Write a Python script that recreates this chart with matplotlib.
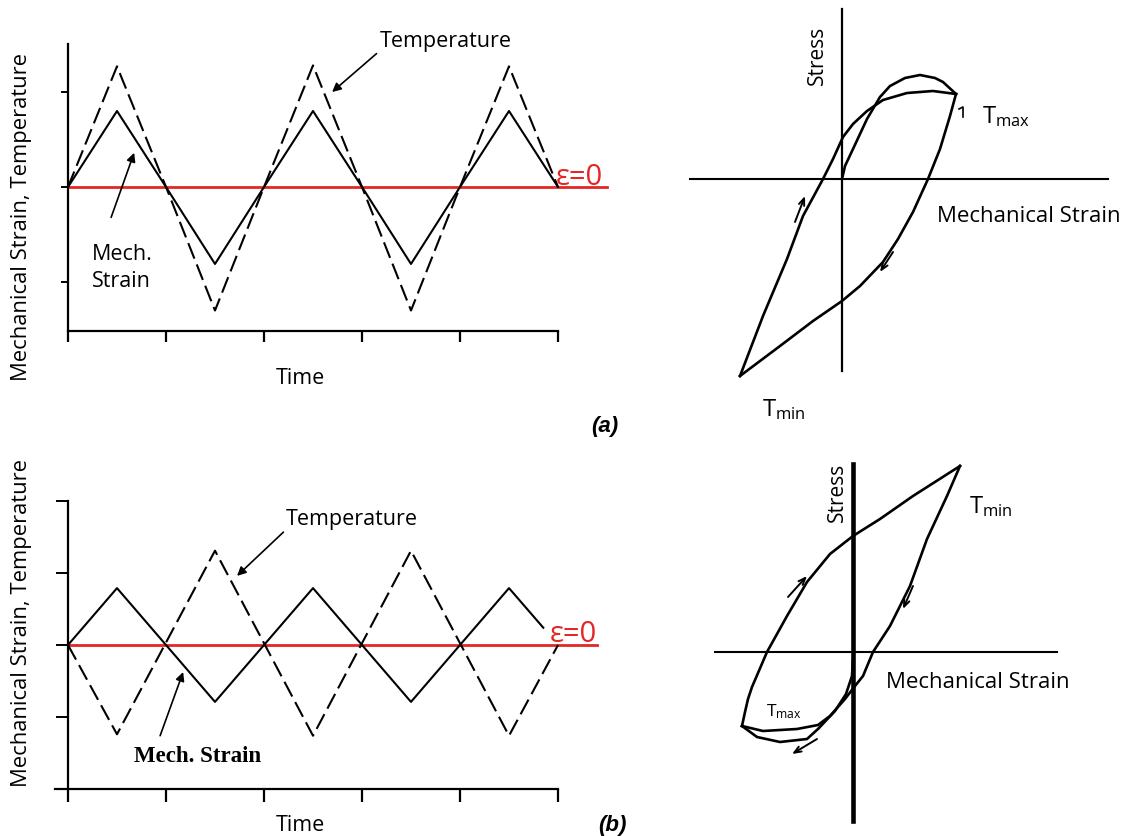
import matplotlib.pyplot as plt

# --- Configurações ---
LARGURA, ALTURA = 1127, 837
VERMELHO = '#e32626'
plt.rcParams['font.family'] = ['Open Sans', 'DejaVu Sans']
plt.rcParams['mathtext.fontset'] = 'custom'
plt.rcParams['mathtext.rm'] = 'Open Sans'

# --- Dados (a): deformação e temperatura em fase ---
tempo_a = [0, 1, 2, 3, 4, 5, 6, 7, 8, 9, 10]
deform_a = [0, 0.8, 0, -0.81, 0, 0.8, 0, -0.81, 0, 0.8, 0]
temp_a = [0, 1.27, 0, -1.3, 0, 1.28, 0, -1.3, 0, 1.27, 0]

# --- Dados (b): fora de fase ---
tempo_b_def = [0, 1, 3, 5, 7, 9, 9.7]
deform_b = [0, 0.79, -0.79, 0.79, -0.79, 0.79, 0.24]
tempo_b_temp = [0, 1, 3, 5, 7, 9, 10]
temp_b = [0, -1.24, 1.31, -1.26, 1.31, -1.26, 0]

# --- Laço tensão x deformação (a) ---
laco_a_ini_x = [0.0, 0.03, 0.11, 0.25, 0.38, 0.48, 0.63, 0.78, 0.93, 1.01, 1.14]
laco_a_ini_y = [0.0, 0.13, 0.30, 0.60, 0.82, 0.93, 1.01, 1.04, 1.01, 0.97, 0.85]
laco_a_sup_x = [-1.02, -0.79, -0.55, -0.39, -0.19, -0.09, 0.01, 0.11, 0.25, 0.41, 0.65, 0.91, 1.14]
laco_a_sup_y = [-1.97, -1.37, -0.80, -0.37, 0.0, 0.20, 0.42, 0.55, 0.68, 0.79, 0.86, 0.88, 0.85]
laco_a_inf_x = [1.14, 1.08, 0.98, 0.86, 0.71, 0.56, 0.41, 0.18, 0.0, -0.29, -0.62, -0.82, -1.02]
laco_a_inf_y = [0.85, 0.63, 0.30, 0.0, -0.33, -0.60, -0.83, -1.07, -1.22, -1.42, -1.67, -1.82, -1.97]

# --- Laço tensão x deformação (b) ---
laco_b_sup_x = [1.07, 0.60, 0.27, 0.0, -0.23, -0.46, -0.66, -0.86, -1.01, -1.05, -1.08, -1.11]
laco_b_sup_y = [1.86, 1.56, 1.33, 1.16, 0.98, 0.70, 0.36, 0.0, -0.35, -0.47, -0.60, -0.74]
laco_b_dir_x = [1.07, 0.94, 0.74, 0.57, 0.37, 0.20, 0.10, 0.02, -0.08, -0.23, -0.35, -0.56, -0.90, -1.11]
laco_b_dir_y = [1.86, 1.56, 1.13, 0.66, 0.26, 0.0, -0.24, -0.34, -0.47, -0.64, -0.73, -0.77, -0.79, -0.74]
laco_b_ini_x = [0.0, -0.01, -0.07, -0.18, -0.35, -0.46, -0.73, -0.96, -1.11]
laco_b_ini_y = [-0.07, -0.24, -0.42, -0.59, -0.77, -0.87, -0.90, -0.85, -0.74]


def caixa(x0, y0, x1, y1):
    # converte caixa em pixels (origem no topo) para fração da figura
    return [x0 / LARGURA, 1 - y1 / ALTURA, (x1 - x0) / LARGURA, (y1 - y0) / ALTURA]


def px(x, y):
    return x / LARGURA, 1 - y / ALTURA


def eixo_tempo(ax, x0px, topo, base, ticks_y, base_esq, tam_tick):
    # eixos com escala em pixels: 49 px por unidade de tempo
    ax.set_xlim((50 - x0px) / 49, (620 - x0px) / 49)
    ax.patch.set_alpha(0)
    for lado in ['top', 'right']:
        ax.spines[lado].set_visible(False)
    ax.spines['left'].set_position(('data', 0))
    ax.spines['left'].set_bounds(base, topo)
    ax.spines['bottom'].set_position(('data', base))
    ax.spines['bottom'].set_bounds(base_esq, 10)
    for lado in ['left', 'bottom']:
        ax.spines[lado].set_linewidth(1.6)
    ax.set_xticks([0, 2, 4, 6, 8, 10])
    ax.set_yticks(ticks_y)
    ax.set_xticklabels([])
    ax.set_yticklabels([])
    ax.tick_params(axis='x', direction='out', length=tam_tick[0], width=1.6)
    ax.tick_params(axis='y', direction='out', length=tam_tick[1], width=1.4)


seta = dict(arrowstyle='-|>', lw=1.2, color='black', mutation_scale=13, shrinkA=0, shrinkB=0)
seta_pequena = dict(arrowstyle='->,head_length=0.5,head_width=0.2', lw=1.4, color='black',
                    shrinkA=0, shrinkB=0)

fig = plt.figure(figsize=(LARGURA / 100, ALTURA / 100), dpi=100)

# ---------------- (a) esquerda ----------------
ax1 = fig.add_axes(caixa(50, 40, 620, 345))
eixo_tempo(ax1, 68, 1.505, -1.516, [-1, 0, 1], 0, (8, 5))
ax1.set_ylim((188 - 345) / 95, (188 - 40) / 95)
ax1.plot([0, 11.0], [0, 0], color=VERMELHO, lw=2.0, zorder=1)
ax1.plot(tempo_a, deform_a, color='black', lw=1.5)
ax1.plot(tempo_a, temp_a, color='black', lw=1.5, dashes=(8, 3))
ax1.annotate('Temperature', xy=(5.39, 1.0), xytext=(7.7, 1.54), ha='center', va='center',
             fontsize=15.5, annotation_clip=False,
             arrowprops=dict(seta, relpos=(0.0, 0.0)))
ax1.annotate('', xy=(1.35, 0.36), xytext=(0.88, -0.32), arrowprops=seta)
ax1.text(0.49, -0.84, 'Mech.\nStrain', ha='left', va='center', fontsize=15.5, linespacing=1.35)

fig.text(*px(22, 217), 'Mechanical Strain, Temperature', rotation=90, ha='center', va='center',
         fontsize=15.8)
fig.text(*px(300, 378), 'Time', ha='center', va='center', fontsize=15.5)
fig.text(*px(556, 178), 'ε=0', ha='left', va='center', fontsize=21, color=VERMELHO)
fig.text(*px(605, 427), '(a)', ha='center', va='center', fontsize=16, style='italic',
         weight='bold', family='Liberation Sans')

# ---------------- (b) esquerda ----------------
ax2 = fig.add_axes(caixa(50, 495, 620, 815))
eixo_tempo(ax2, 68, 2.0, -2.0, [-1, 0, 1, 2], -0.27, (9, 9))
ax2.set_ylim((646 - 815) / 72, (646 - 495) / 72)
ax2.plot([0, 10.8], [0, 0], color=VERMELHO, lw=2.0, zorder=1)
ax2.plot(tempo_b_def, deform_b, color='black', lw=1.5)
ax2.plot(tempo_b_temp, temp_b, color='black', lw=1.5, dashes=(8, 3))
ax2.annotate('Temperature', xy=(3.45, 0.96), xytext=(5.8, 1.75), ha='center', va='center',
             fontsize=15.5, annotation_clip=False,
             arrowprops=dict(seta, relpos=(0.0, 0.0)))
ax2.annotate('', xy=(2.35, -0.375), xytext=(1.88, -1.26), arrowprops=seta)
ax2.text(1.35, -1.54, 'Mech. Strain', ha='left', va='center', fontsize=16.5,
         family='Liberation Serif', weight='bold')

fig.text(*px(22, 623), 'Mechanical Strain, Temperature', rotation=90, ha='center', va='center',
         fontsize=15.8)
fig.text(*px(300, 826), 'Time', ha='center', va='center', fontsize=15.5)
fig.text(*px(550, 635), 'ε=0', ha='left', va='center', fontsize=21, color=VERMELHO)
fig.text(*px(612, 826), '(b)', ha='center', va='center', fontsize=16, style='italic',
         weight='bold', family='Liberation Sans')

# ---------------- (a) direita: laço ----------------
ax3 = fig.add_axes(caixa(680, 0, 1127, 420))
ax3.set_xlim((680 - 842) / 100, (1127 - 842) / 100)
ax3.set_ylim((180 - 420) / 100, 180 / 100)
ax3.axis('off')
ax3.plot([(690 - 842) / 100, (1108 - 842) / 100], [0, 0], color='black', lw=1.5)
ax3.plot([0, 0], [(180 - 372) / 100, (180 - 10) / 100], color='black', lw=1.6)
ax3.plot(laco_a_ini_x, laco_a_ini_y, color='black', lw=1.9)
ax3.plot(laco_a_sup_x, laco_a_sup_y, color='black', lw=1.9)
ax3.plot(laco_a_inf_x, laco_a_inf_y, color='black', lw=1.9)
ax3.annotate('', xy=(-0.37, -0.17), xytext=(-0.47, -0.43), arrowprops=seta_pequena)
ax3.annotate('', xy=(0.38, -0.93), xytext=(0.51, -0.73), arrowprops=seta_pequena)
ax3.plot([1.17, 1.21, 1.21], [0.70, 0.72, 0.62], color='black', lw=1.2)

fig.text(*px(817, 55), 'Stress', rotation=90, ha='center', va='center', fontsize=15)
fig.text(*px(937, 217), 'Mechanical Strain', ha='left', va='center', fontsize=16)
fig.text(*px(982, 117), r'$\mathregular{T_{max}}$', ha='left', va='center', fontsize=17)
fig.text(*px(762, 410), r'$\mathregular{T_{min}}$', ha='left', va='center', fontsize=17)

# ---------------- (b) direita: laço ----------------
ax4 = fig.add_axes(caixa(680, 440, 1127, 837))
ax4.set_xlim((680 - 853) / 100, (1127 - 853) / 100)
ax4.set_ylim((653 - 837) / 100, (653 - 440) / 100)
ax4.axis('off')
ax4.plot([(715 - 853) / 100, (1057 - 853) / 100], [0, 0], color='black', lw=1.5)
ax4.plot([0, 0], [(653 - 822) / 100, (653 - 465) / 100], color='black', lw=3.3)
ax4.plot(laco_b_sup_x, laco_b_sup_y, color='black', lw=1.9)
ax4.plot(laco_b_dir_x, laco_b_dir_y, color='black', lw=1.9)
ax4.plot(laco_b_ini_x, laco_b_ini_y, color='black', lw=1.9)
ax4.annotate('', xy=(-0.46, 0.76), xytext=(-0.65, 0.55), arrowprops=seta_pequena)
ax4.annotate('', xy=(0.50, 0.43), xytext=(0.60, 0.66), arrowprops=seta_pequena)
ax4.annotate('', xy=(-0.61, -1.02), xytext=(-0.36, -0.87), arrowprops=seta_pequena)

fig.text(*px(837, 492), 'Stress', rotation=90, ha='center', va='center', fontsize=15)
fig.text(*px(886, 683), 'Mechanical Strain', ha='left', va='center', fontsize=16)
fig.text(*px(969, 507), r'$\mathregular{T_{min}}$', ha='left', va='center', fontsize=17)
fig.text(*px(766, 712), r'$\mathregular{T_{max}}$', ha='left', va='center', fontsize=12.5)

fig.savefig('out.png', dpi=100)
plt.close(fig)
